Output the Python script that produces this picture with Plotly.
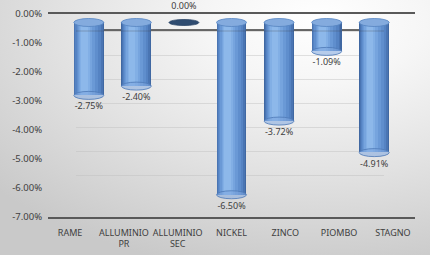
import base64
import plotly.graph_objects as go

# ---- data ----
categories = ["RAME", "ALLUMINIO<br>PR", "ALLUMINIO<br>SEC", "NICKEL", "ZINCO", "PIOMBO", "STAGNO"]
values = [-2.75, -2.40, 0.00, -6.50, -3.72, -1.09, -4.91]
y_tick_values = [0, -1, -2, -3, -4, -5, -6, -7]
y_tick_labels = ["0.00%", "-1.00%", "-2.00%", "-3.00%", "-4.00%", "-5.00%", "-6.00%", "-7.00%"]

W, H = 430, 255
FONT = "Noto Sans"
TXT = "#404040"

def px_x(a, b):
    return [a / W, b / W]

def px_y(top, bottom):
    return [1 - bottom / H, 1 - top / H]

# background gradient (decoration)
svg = f"""<svg xmlns='http://www.w3.org/2000/svg' width='{W}' height='{H}' viewBox='0 0 {W} {H}' preserveAspectRatio='none'>
<defs><radialGradient id='g' cx='0.74' cy='0.08' r='1.0' gradientUnits='objectBoundingBox'>
<stop offset='0' stop-color='#ffffff'/><stop offset='0.25' stop-color='#f6f6f6'/>
<stop offset='0.6' stop-color='#e2e2e2'/><stop offset='1' stop-color='#c9c9c9'/>
</radialGradient></defs><rect width='{W}' height='{H}' fill='url(#g)'/></svg>"""
bg_uri = "data:image/svg+xml;base64," + base64.b64encode(svg.encode()).decode()

fig = go.Figure()

# back plane (x / y) : grid + back zero line
fig.add_trace(go.Scatter(x=[0.5], y=[-3.5], mode="markers", marker=dict(opacity=0),
                         hoverinfo="skip", showlegend=False, xaxis="x", yaxis="y"))
# front plane (x2 / y2): tick labels + front lines
fig.add_trace(go.Scatter(x=categories, y=values, mode="markers", marker=dict(opacity=0),
                         hoverinfo="skip", showlegend=False, xaxis="x2", yaxis="y2"))

# mid plane (x3 / y3): cylinders (nested bars give the cylinder shading)
BW = 0.63
slices = [(0.0, 1.0, "#4068a2"), (0.02, 0.96, "#4a75b3"), (0.05, 0.9, "#5583c3"),
          (0.09, 0.82, "#5f8ecd"), (0.13, 0.72, "#6a99d6"), (0.17, 0.62, "#76a4de"),
          (0.21, 0.54, "#82afe5"), (0.25, 0.47, "#8db8ea")]
for s0, s1, col in slices:
    fig.add_trace(go.Bar(x=categories, y=values, width=(s1 - s0) * BW,
                         offset=-BW / 2 + s0 * BW, marker=dict(color=col, line=dict(width=0)),
                         hoverinfo="skip", showlegend=False, xaxis="x3", yaxis="y3"))

labels = [f"{v:.2f}%" for v in values]
positions = ["bottom center" if v < 0 else "top center" for v in values]
label_gap = [10 if v < 0 else 16 for v in values]
fig.add_trace(go.Scatter(x=categories, y=values, mode="markers+text", text=labels,
                         textposition=positions, marker=dict(size=label_gap, opacity=0),
                         textfont=dict(family=FONT, size=9, color=TXT),
                         hoverinfo="skip", showlegend=False, cliponaxis=False,
                         xaxis="x3", yaxis="y3"))

shapes = []
for i, v in enumerate(values):
    x0, x1 = i - BW / 2, i + BW / 2
    if v == 0:
        shapes.append(dict(type="circle", xref="x3", yref="y3", x0=x0, x1=x1,
                           ysizemode="pixel", yanchor=v, y0=-3, y1=3,
                           fillcolor="#2f4c70", line=dict(color="#2a4466", width=0.8), layer="above"))
    else:
        shapes.append(dict(type="circle", xref="x3", yref="y3", x0=x0, x1=x1,
                           ysizemode="pixel", yanchor=0, y0=-4, y1=4,
                           fillcolor="#84abde", line=dict(color="#5684c0", width=0.8), layer="above"))
        shapes.append(dict(type="circle", xref="x3", yref="y3", x0=x0, x1=x1,
                           ysizemode="pixel", yanchor=v, y0=-4, y1=4,
                           fillcolor="rgba(125,165,222,0.55)", line=dict(color="#4c79b6", width=0.8),
                           layer="above"))
# back zero line faintly visible through the cylinders
shapes.append(dict(type="line", xref="x domain", yref="y domain", x0=0, x1=1, y0=1, y1=1,
                   line=dict(color="rgba(70,70,70,0.3)", width=1.2), layer="above"))

MID_SCALE = (208 - 22.5) / 7.0   # px per 1% on the mid plane
MID_TOP = 0.5                    # headroom so the top caps are not clipped

fig.update_layout(
    width=W, height=H,
    margin=dict(l=0, r=0, t=0, b=0, pad=0, autoexpand=False),
    paper_bgcolor="#d8d8d8",
    plot_bgcolor="rgba(0,0,0,0)",
    barmode="overlay",
    bargap=0,
    showlegend=False,
    images=[dict(source=bg_uri, xref="paper", yref="paper", x=0, y=1, sizex=1, sizey=1,
                 sizing="stretch", xanchor="left", yanchor="top", layer="below")],
    shapes=shapes,
    # back plane
    xaxis=dict(domain=px_x(76, 384), range=[0, 1], showgrid=False, zeroline=False,
               showticklabels=False, ticks="", showline=True, side="top", mirror=False,
               linecolor="#6b6b6b", linewidth=1.5, anchor="y", fixedrange=True, automargin=False),
    yaxis=dict(domain=px_y(31, 199), range=[-7, 0], dtick=1, showgrid=True,
               gridcolor="rgba(190,190,190,0.45)", gridwidth=1, zeroline=False,
               showticklabels=False, ticks="", showline=False, anchor="x", fixedrange=True,
               automargin=False),
    # front plane
    xaxis2=dict(domain=px_x(48, 415), type="category", categoryorder="array",
                categoryarray=categories, showgrid=False, zeroline=False,
                showline=True, mirror=True, linecolor="#595959", linewidth=1.5,
                ticks="outside", ticklen=6, tickcolor="rgba(0,0,0,0)", tickangle=0,
                tickfont=dict(family=FONT, size=9, color=TXT), anchor="y2", fixedrange=True,
                automargin=False),
    yaxis2=dict(domain=px_y(14, 217), range=[-7, 0], tickvals=y_tick_values,
                ticktext=y_tick_labels, showgrid=False, zeroline=False, showline=False,
                ticks="outside", ticklen=3, tickcolor="rgba(0,0,0,0)",
                tickfont=dict(family=FONT, size=9.5, color=TXT), anchor="x2", fixedrange=True,
                automargin=False),
    # mid plane (cylinders)
    xaxis3=dict(domain=px_x(65, 398), type="category", categoryorder="array",
                categoryarray=categories, range=[-0.5, 6.5], visible=False,
                anchor="y3", fixedrange=True, automargin=False),
    yaxis3=dict(domain=px_y(22.5 - MID_TOP * MID_SCALE, 208), range=[-7, MID_TOP], visible=False,
                anchor="x3", fixedrange=True, automargin=False),
)

fig.write_html("out.html", config={"displayModeBar": False})
